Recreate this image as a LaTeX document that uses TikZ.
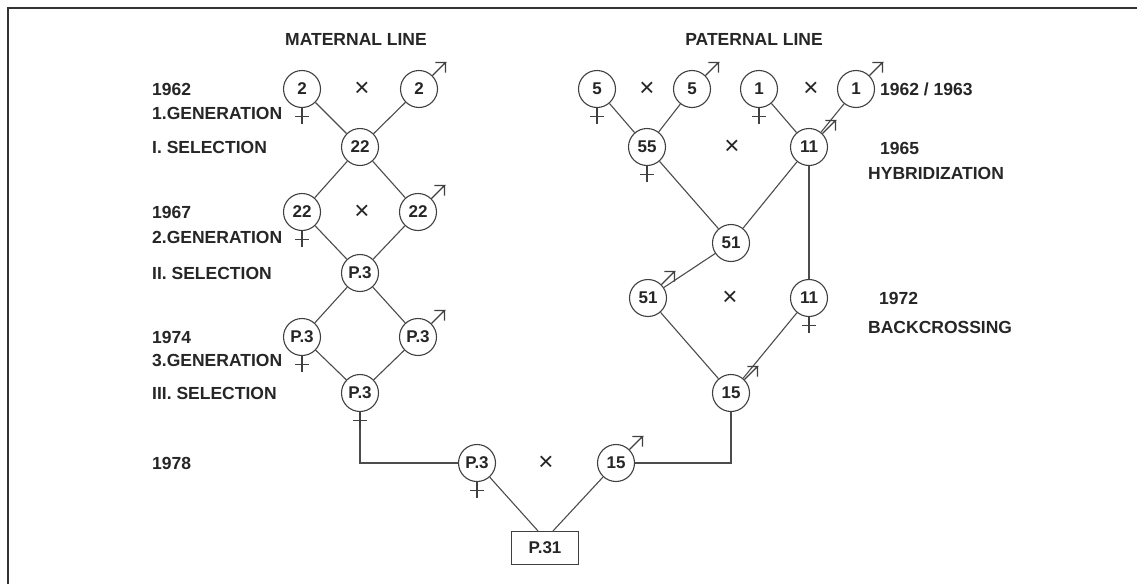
\documentclass[tikz,border=0pt]{standalone}
\usepackage{fontspec}
\setmainfont{Liberation Sans}
\begin{document}
\begin{tikzpicture}[x=1pt,y=-1pt,
  ind/.style={circle,draw=black!75,line width=1.1pt,minimum size=37pt,inner sep=0pt,font=\bfseries\fontsize{17}{17}\selectfont,text=black!85},
  lbl/.style={anchor=west,inner sep=0pt,font=\bfseries\fontsize{17.5}{17.5}\selectfont,text=black!85},
  ttl/.style={inner sep=0pt,font=\bfseries\fontsize{17.5}{17.5}\selectfont,text=black!85},
  cross/.style={inner sep=0pt,font=\fontsize{26}{26}\selectfont,text=black!85},
  conn/.style={draw=black!70,line width=1.1pt},
  sym/.style={draw=black!75,line width=1.1pt},
  boxn/.style={draw=black!75,line width=1.1pt,minimum width=67pt,minimum height=33pt,inner sep=0pt,font=\bfseries\fontsize{17}{17}\selectfont,text=black!85}]
\useasboundingbox (0,0) rectangle (1137,584);
\fill[white] (0,0) rectangle (1137,584);
\draw[draw=black!80,line width=2pt] (1137,8) -- (8,8) -- (8,584);

\newcommand{\fem}[1]{\draw[sym] (#1.south) -- ++(0,16) (#1.south) ++(-7,8) -- ++(14,0);}
\newcommand{\mal}[1]{\draw[sym] (#1.45) -- ++(13,-13) -- ++(-10,0) ++(10,0) -- ++(0,10);}

% titles
\node[ttl] (tm) at (356,39) {MATERNAL LINE};
\node[ttl] (tp) at (754,39) {PATERNAL LINE};

% left labels
\node[lbl] (l1) at (152,89) {1962};
\node[lbl] (l2) at (152,113) {1.GENERATION};
\node[lbl] (l3) at (152,147) {I. SELECTION};
\node[lbl] (l4) at (152,212) {1967};
\node[lbl] (l5) at (152,237) {2.GENERATION};
\node[lbl] (l6) at (152,273) {II. SELECTION};
\node[lbl] (l7) at (152,337) {1974};
\node[lbl] (l8) at (152,360) {3.GENERATION};
\node[lbl] (l9) at (152,393) {III. SELECTION};
\node[lbl] (l10) at (152,463) {1978};

% right labels
\node[lbl] (r1) at (880,89) {1962 / 1963};
\node[lbl] (r2) at (880,148) {1965};
\node[lbl] (r3) at (868,173) {HYBRIDIZATION};
\node[lbl] (r4) at (879,298) {1972};
\node[lbl] (r5) at (868,327) {BACKCROSSING};

% maternal line
\node[ind] (m2f) at (302,89) {2};
\node[cross] (x1) at (362,89) {×};
\node[ind] (m2m) at (419,89) {2};
\node[ind] (m22) at (360,147) {22};
\node[ind] (m22f) at (302,212) {22};
\node[cross] (x2) at (362,212) {×};
\node[ind] (m22m) at (418,212) {22};
\node[ind] (mP3) at (360,273) {P.3};
\node[ind] (mP3f) at (302,337) {P.3};
\node[ind] (mP3m) at (418,337) {P.3};
\node[ind] (mP3s) at (360,393) {P.3};

% paternal line
\node[ind] (p5f) at (597,89) {5};
\node[cross] (x3) at (647,89) {×};
\node[ind] (p5m) at (692,89) {5};
\node[ind] (p1f) at (759,89) {1};
\node[cross] (x4) at (811,89) {×};
\node[ind] (p1m) at (856,89) {1};
\node[ind] (p55) at (647,147) {55};
\node[cross] (x5) at (732,147) {×};
\node[ind] (p11) at (809,147) {11};
\node[ind] (p51) at (731,243) {51};
\node[ind] (p51m) at (648,298) {51};
\node[cross] (x6) at (730,298) {×};
\node[ind] (p11b) at (809,298) {11};
\node[ind] (p15) at (731,393) {15};

% final cross
\node[ind] (bP3) at (477,463) {P.3};
\node[cross] (x7) at (546,463) {×};
\node[ind] (b15) at (616,463) {15};
\node[boxn] (p31) at (545,548) {P.31};

% connectors maternal
\draw[conn] (m2f) -- (m22);
\draw[conn] (m2m) -- (m22);
\draw[conn] (m22) -- (m22f);
\draw[conn] (m22) -- (m22m);
\draw[conn] (m22f) -- (mP3);
\draw[conn] (m22m) -- (mP3);
\draw[conn] (mP3) -- (mP3f);
\draw[conn] (mP3) -- (mP3m);
\draw[conn] (mP3f) -- (mP3s);
\draw[conn] (mP3m) -- (mP3s);
\draw[conn] (mP3s.south) |- (bP3.west);

% connectors paternal
\draw[conn] (p5f) -- (p55);
\draw[conn] (p5m) -- (p55);
\draw[conn] (p1f) -- (p11);
\draw[conn] (p1m) -- (p11);
\draw[conn] (p55) -- (p51);
\draw[conn] (p11) -- (p51);
\draw[conn] (p11.south) -- (p11b.north);
\draw[conn] (p51) -- (p51m);
\draw[conn] (p51m) -- (p15);
\draw[conn] (p11b) -- (p15);
\draw[conn] (p15.south) |- (b15.east);

% final
\draw[conn] (bP3) -- ([xshift=-7pt]p31.north);
\draw[conn] (b15) -- ([xshift=8pt]p31.north);

% sex symbols
\fem{m2f} \mal{m2m}
\fem{m22f} \mal{m22m}
\fem{mP3f} \mal{mP3m}
\fem{mP3s}
\fem{p5f} \mal{p5m}
\fem{p1f} \mal{p1m}
\fem{p55} \mal{p11}
\mal{p51m} \fem{p11b}
\mal{p15}
\fem{bP3} \mal{b15}
\end{tikzpicture}
\end{document}
